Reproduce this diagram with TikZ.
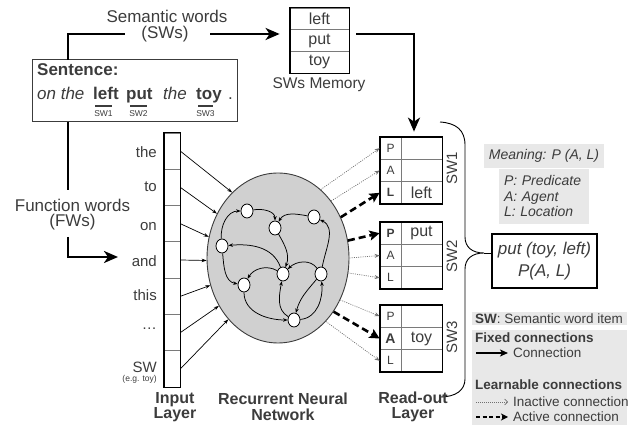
\documentclass[tikz,border=0pt]{standalone}
\usepackage{fontspec}
\setmainfont{Liberation Sans}
\usetikzlibrary{arrows.meta,shapes.geometric}
\definecolor{txt}{HTML}{3C3C3C}
\definecolor{rnnfill}{HTML}{D0D0D0}
\definecolor{boxgray}{HTML}{E8E8E8}
\definecolor{divgray}{HTML}{7A7A7A}
\definecolor{dotgray}{HTML}{707070}
\newcommand{\myfs}[2]{\fontsize{#1}{#2}\selectfont}
\begin{document}
\begin{tikzpicture}[x=1pt,y=1pt,
  every node/.style={inner sep=0pt, text=txt},
  conn/.style={line width=2.4pt, black},
  bigarrow/.style={conn, -{Stealth[length=14pt,width=12pt,inset=4pt]}},
  biglbl/.style={font=\myfs{17}{20}},
  inlbl/.style={font=\myfs{15}{17}, anchor=east},
  inarr/.style={line width=0.7pt, black, -{Stealth[length=5pt,width=3.5pt]}},
  dotarr/.style={line width=0.7pt, dotgray, dash pattern=on 1pt off 1.2pt, -{Stealth[length=5pt,width=4pt]}},
  dasharr/.style={line width=2.6pt, black, dash pattern=on 7pt off 4pt, -{Stealth[length=10pt,width=10pt,inset=2pt]}},
  neuron/.style={ellipse, draw=black, fill=white, line width=0.8pt, minimum width=12, minimum height=14},
  rarr/.style={line width=0.75pt, black, -{Stealth[length=4.5pt,width=3.5pt]}},
  icell/.style={draw=divgray, line width=0.8pt, minimum width=16, minimum height=36.29},
  mcell/.style={draw=divgray, line width=0.8pt, minimum width=59, minimum height=21.67, font=\myfs{16}{18}},
  lcell/.style={draw=divgray, line width=0.8pt, minimum width=21, minimum height=22.33, font=\myfs{12}{14}},
  rcell/.style={draw=divgray, line width=0.8pt, minimum width=41, minimum height=22.33, font=\myfs{16}{18}},
  graybox/.style={fill=boxgray, draw=none},
  legtxt/.style={font=\myfs{13.5}{15}, anchor=west},
]
\useasboundingbox (0,0) rectangle (629,425);

% ---------- Sentence box ----------
\node[draw=txt, line width=1.3pt, minimum width=205, minimum height=62, anchor=south west] (sent) at (32,303) {};
\node[font=\myfs{17}{20}\bfseries, anchor=base west] (sentlbl) at (37,349) {Sentence:};
\node[font=\myfs{17}{20}\itshape, anchor=base west] (w1) at (37,325) {on the};
\node[font=\myfs{17}{20}\bfseries, anchor=base west] (w2) at (93,325) {left};
\node[font=\myfs{17}{20}\bfseries, anchor=base west] (w3) at (126,325) {put};
\node[font=\myfs{17}{20}\itshape, anchor=base west] (w4) at (163,325) {the};
\node[font=\myfs{17}{20}\bfseries, anchor=base west] (w5) at (196,325) {toy};
\node[font=\myfs{17}{20}, anchor=base west] (w6) at (228,325) {.};
\draw[line width=1.8pt, txt] (95,319) -- (112,319);
\draw[line width=1.8pt, txt] (130,319) -- (147,319);
\draw[line width=1.8pt, txt] (198,319) -- (213,319);
\node[font=\myfs{8.5}{10}] (sw1) at (103.5,311) {SW1};
\node[font=\myfs{8.5}{10}] (sw2) at (138.5,311) {SW2};
\node[font=\myfs{8.5}{10}] (sw3) at (205.5,311) {SW3};

% ---------- Semantic words path ----------
\node[biglbl] (swlab) at (167,409) {Semantic words};
\node[biglbl] (swlab2) at (165,391) {(SWs)};
\coordinate (sa) at (68,365);
\coordinate (sb) at (125,391);
\coordinate (sc) at (210,391);
\draw[conn] (sa) |- (sb);

% ---------- SWs memory ----------
\node[mcell] (m1) at (319.5,406.2) {left};
\node[mcell] (m2) at (319.5,384.5) {put};
\node[mcell] (m3) at (319.5,362.8) {toy};
\draw[line width=1.8pt, black] (m1.north west) rectangle (m3.south east);
\node[font=\myfs{15.5}{17}] (memlbl) at (319,340) {SWs Memory};
\draw[bigarrow, shorten >=10pt] (sc) -- (sc -| m1.west);

% ---------- Function words path ----------
\node[biglbl] (fwlab) at (72.5,220) {Function words};
\node[biglbl] (fwlab2) at (72.5,203) {(FWs)};
\coordinate (fa) at (68,303);
\coordinate (fb) at (68,235);
\coordinate (fc) at (68,188);
\coordinate (fd) at (118,168);
\draw[conn] (fa) -- (fb);
\draw[bigarrow] (fc) |- (fd);

% ---------- Input layer ----------
\node[icell] (i1) at (172,273.86) {};
\node[icell] (i2) at (172,237.57) {};
\node[icell] (i3) at (172,201.29) {};
\node[icell] (i4) at (172,165) {};
\node[icell] (i5) at (172,128.71) {};
\node[icell] (i6) at (172,92.43) {};
\node[icell] (i7) at (172,56.14) {};
\draw[line width=1.8pt, black] (i1.north west) rectangle (i7.south east);
\node[inlbl] (l1) at (157,273) {the};
\node[inlbl] (l2) at (157,238) {to};
\node[inlbl] (l3) at (157,198) {on};
\node[inlbl] (l4) at (157,164) {and};
\node[inlbl] (l5) at (157,130) {this};
\node[inlbl] (l6) at (157,96) {\dots};
\node[inlbl] (l7) at (157,58) {SW};
\node[font=\myfs{8.5}{10}, anchor=east] (l7b) at (157,46) {(e.g. toy)};

% ---------- RNN ----------
\node[ellipse, draw=txt, fill=rnnfill, line width=0.9pt, minimum width=142, minimum height=170] (rnn) at (278,167) {};
\draw[inarr] (i1.east) -- (rnn.125);
\draw[inarr] (i2.east) -- (rnn.144);
\draw[inarr] (i3.east) -- (rnn.163);
\draw[inarr] (i4.east) -- (rnn.182);
\draw[inarr] (i5.east) -- (rnn.202);
\draw[inarr] (i6.east) -- (rnn.219);
\draw[inarr] (i7.east) -- (rnn.231);

\node[neuron] (n1) at (247,214) {};
\node[neuron] (n2) at (275,197) {};
\node[neuron] (n3) at (314,208) {};
\node[neuron] (n4) at (222,179) {};
\node[neuron] (n5) at (283,151) {};
\node[neuron] (n6) at (321,151) {};
\node[neuron] (n7) at (244,140) {};
\node[neuron] (n8) at (294,105) {};
\draw[rarr] (n4) to[out=95,in=180] (n1);
\draw[rarr] (n1) to[out=10,in=90] (n2);
\draw[rarr] (n3) to[out=170,in=60] (n2);
\draw[rarr] (n2) to[out=-60,in=70] (n5);
\draw[rarr] (n6) to[out=80,in=-25] (n3);
\draw[rarr] (n5) to[out=110,in=5] (n4);
\draw[rarr] (n4) to[out=-85,in=170] (n7);
\draw[rarr] (n5) to[out=150,in=60] (n7);
\draw[rarr] (n7) to[out=-90,in=180] (n8);
\draw[rarr] (n8) to[out=150,in=-100] (n5);
\draw[rarr] (n6) to[out=-130,in=75] (n8);
\draw[rarr] (n8) to[out=5,in=-85] (n6);
\draw[rarr] (n6) to[out=125,in=45] (n5);

% ---------- Read-out layer ----------
\node[lcell] (r1p) at (390.5,276.8) {P};
\node[rcell] (r1pv) at (421.5,276.8) {};
\node[lcell] (r1a) at (390.5,254.5) {A};
\node[rcell] (r1av) at (421.5,254.5) {};
\node[lcell, font=\myfs{12}{14}\bfseries] (r1l) at (390.5,232.2) {L};
\node[rcell] (r1lv) at (421.5,232.2) {left};
\draw[line width=1.8pt, black] (r1p.north west) rectangle (r1lv.south east);

\node[lcell, font=\myfs{12}{14}\bfseries] (r2p) at (390.5,191.8) {P};
\node[rcell] (r2pv) at (421.5,191.8) {put};
\node[lcell] (r2a) at (390.5,169.5) {A};
\node[rcell] (r2av) at (421.5,169.5) {};
\node[lcell] (r2l) at (390.5,147.2) {L};
\node[rcell] (r2lv) at (421.5,147.2) {};
\draw[line width=1.8pt, black] (r2p.north west) rectangle (r2lv.south east);

\node[lcell] (r3p) at (390.5,108.8) {P};
\node[rcell] (r3pv) at (421.5,108.8) {};
\node[lcell, font=\myfs{14}{16}\bfseries] (r3a) at (390.5,86.5) {A};
\node[rcell] (r3av) at (421.5,86.5) {toy};
\node[lcell] (r3l) at (390.5,64.2) {L};
\node[rcell] (r3lv) at (421.5,64.2) {};
\draw[line width=1.8pt, black] (r3p.north west) rectangle (r3lv.south east);

\node[font=\myfs{15}{17}, rotate=90] (sl1) at (452,257) {SW1};
\node[font=\myfs{15}{17}, rotate=90] (sl2) at (452,169) {SW2};
\node[font=\myfs{15}{17}, rotate=90] (sl3) at (452,88) {SW3};

\coordinate (ma) at (356,391);
\draw[bigarrow] (ma) -| ([yshift=5pt]r1pv.north -| 414,0);

\draw[dotarr] (rnn.58) -- (r1p.west);
\draw[dotarr] (rnn.47) -- (r1a.west);
\draw[dasharr] (rnn.33) -- (r1l.west);
\draw[dasharr] (rnn.14) -- (r2p.west);
\draw[dotarr] (rnn.0) -- (r2a.west);
\draw[dotarr] (rnn.-12) -- (r2l.west);
\draw[dotarr] (rnn.-34) -- (r3p.west);
\draw[dasharr] (rnn.-44) -- (r3a.west);
\draw[dotarr] (rnn.-53) -- (r3l.west);

% ---------- Brace and result ----------
\node[draw=black, line width=1.3pt, fill=white, minimum width=105, minimum height=54, align=center, font=\myfs{17}{22}\itshape] (res) at (544.5,164) {put (toy, left)\\P(A, L)};
\coordinate (btip) at (484,172);
\draw[line width=0.9pt, black] (440,303) .. controls (456,302) and (465,295) .. (465,280) -- (465,188)
  .. controls (465,178) and (472,172) .. (btip)
  .. controls (472,172) and (465,166) .. (465,156) -- (465,46)
  .. controls (465,35) and (456,28) .. (440,28);
\draw[line width=0.9pt, black] (btip) -- (btip -| res.west);

\node[graybox, minimum width=120, minimum height=24, font=\myfs{14}{16}\itshape] (mean) at (544,269) {Meaning: P (A, L)};
\node[graybox, minimum width=90, minimum height=55, font=\myfs{14}{15.5}\itshape, align=left, text width=80] (pal) at (544,228.5) {P: Predicate\\A: Agent\\L: Location};

% ---------- Legend ----------
\node[graybox, minimum width=155, minimum height=13, anchor=south west] (swleg) at (472,100) {};
\node[legtxt] (swlegt) at (475,106.5) {\textbf{SW}: Semantic word item};
\node[graybox, minimum width=155, minimum height=95, anchor=south west] (leg) at (472,0) {};
\node[legtxt, font=\myfs{13.5}{15}\bfseries] (fixt) at (475,87) {Fixed connections};
\node[legtxt] (ct) at (513,72) {Connection};
\node[legtxt, font=\myfs{13.5}{15}\bfseries] (lrnt) at (475,40) {Learnable connections};
\node[legtxt] (it) at (513,23) {Inactive connection};
\node[legtxt] (at) at (513,8) {Active connection};
\coordinate (la1) at (476,72);
\coordinate (la2) at (476,23);
\coordinate (la3) at (476,8);
\draw[line width=1.6pt, black, -{Stealth[length=8pt,width=7pt,inset=2pt]}] (la1) -- ([xshift=-5pt]ct.west);
\draw[line width=0.7pt, dotgray, dash pattern=on 1pt off 1pt, -{Straight Barb[length=3pt,width=6pt]}] (la2) -- ([xshift=-5pt]it.west);
\draw[line width=1.6pt, black, dash pattern=on 4pt off 2.5pt, -{Stealth[length=7pt,width=7pt,inset=2pt]}] (la3) -- ([xshift=-5pt]at.west);

% ---------- Bottom labels ----------
\node[font=\myfs{16}{15.5}\bfseries, align=center] (inlay) at (175,18) {Input\\Layer};
\node[font=\myfs{16}{15.5}\bfseries, align=center] (rnnlay) at (283,18) {Recurrent Neural\\Network};
\node[font=\myfs{16}{15.5}\bfseries, align=center] (rolay) at (413,18) {Read-out\\Layer};
\end{tikzpicture}
\end{document}
